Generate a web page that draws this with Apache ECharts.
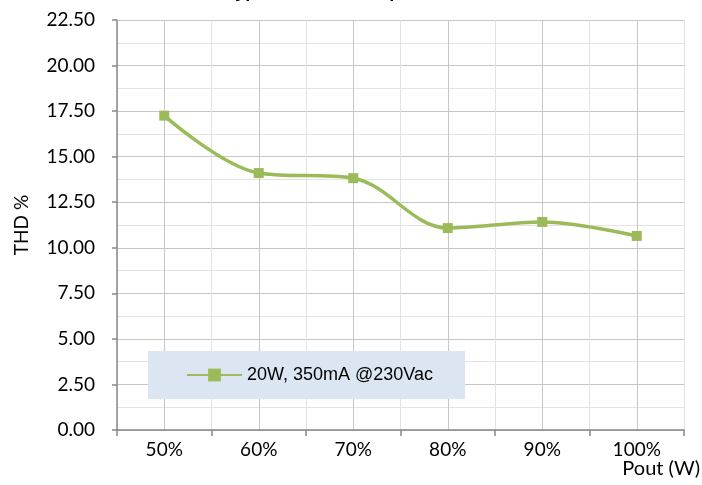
<!DOCTYPE html>
<html><head><meta charset="utf-8">
<script src="https://cdn.jsdelivr.net/npm/echarts@6/dist/echarts.min.js"></script>
<style>html,body{margin:0;padding:0;background:#fff}#c{width:702px;height:485px}</style>
</head><body><div id="c"></div>
<script>
const categories = ['50%', '60%', '70%', '80%', '90%', '100%'];
const thdValues = [17.25, 14.1, 13.82, 11.08, 11.42, 10.65];
const seriesName = '20W, 350mA @230Vac';
const yAxisName = 'THD %';
const xAxisName = 'Pout (W)';
const titleText = 'Typical THD vs Output Power';

const chart = echarts.init(document.getElementById('c'), null, {renderer: 'canvas'});
const lab = {fontFamily: 'Lato', fontSize: 19, color: '#000'};
chart.setOption({
  animation: false,
  backgroundColor: '#fff',
  title: {text: titleText, left: 'center', top: -22, textStyle: {fontFamily: 'Liberation Sans', fontWeight: 'bold', fontSize: 18, color: '#000'}},
  grid: {left: 117, right: 18, top: 20, bottom: 55, containLabel: false},
  legend: {
    left: 148, top: 351,
    backgroundColor: '#dce6f2',
    padding: [15, 32, 15, 38],
    itemWidth: 55, itemHeight: 16, itemGap: 5,
    textStyle: {fontFamily: 'Liberation Sans', fontSize: 18, color: '#000'},
    data: [seriesName]
  },
  graphic: [{type: 'text', right: 2, top: 459, style: {text: xAxisName, font: '20px Lato', fill: '#000'}}],
  xAxis: [{
    type: 'category', data: categories, boundaryGap: true,
    axisLine: {lineStyle: {color: '#888', width: 1.5}},
    axisTick: {show: true, length: 6, lineStyle: {color: '#888', width: 1.5}},
    axisLabel: Object.assign({margin: 10}, lab),
    splitLine: {show: true, lineStyle: {color: '#e3e3e3', width: 1}}
  }, {
    type: 'category', data: categories, boundaryGap: true, position: 'bottom',
    axisLine: {show: false}, axisTick: {show: false, alignWithLabel: true}, axisLabel: {show: false},
    splitLine: {show: true, alignWithLabel: true, lineStyle: {color: '#c6c6c6', width: 1}}
  }],
  yAxis: {
    type: 'value', min: 0, max: 22.5, interval: 2.5,
    name: yAxisName, nameLocation: 'middle', nameGap: 86, nameRotate: 90,
    nameTextStyle: {fontFamily: 'Lato', fontSize: 19, color: '#000'},
    axisLine: {show: true, lineStyle: {color: '#888', width: 1.5}},
    axisTick: {show: true, length: 5, lineStyle: {color: '#888', width: 1.5}},
    axisLabel: Object.assign({margin: 22, formatter: v => v.toFixed(2)}, lab),
    splitLine: {show: true, lineStyle: {color: '#c6c6c6', width: 1}},
    minorTick: {show: false, splitNumber: 2},
    minorSplitLine: {show: true, lineStyle: {color: '#e3e3e3', width: 1}}
  },
  series: [{
    name: seriesName, type: 'line', xAxisIndex: 0, data: thdValues,
    smooth: 0.35, symbol: 'rect', symbolSize: 10,
    lineStyle: {color: '#9bbb59', width: 3.5},
    itemStyle: {color: '#9bbb59'}
  }]
});
</script></body></html>
